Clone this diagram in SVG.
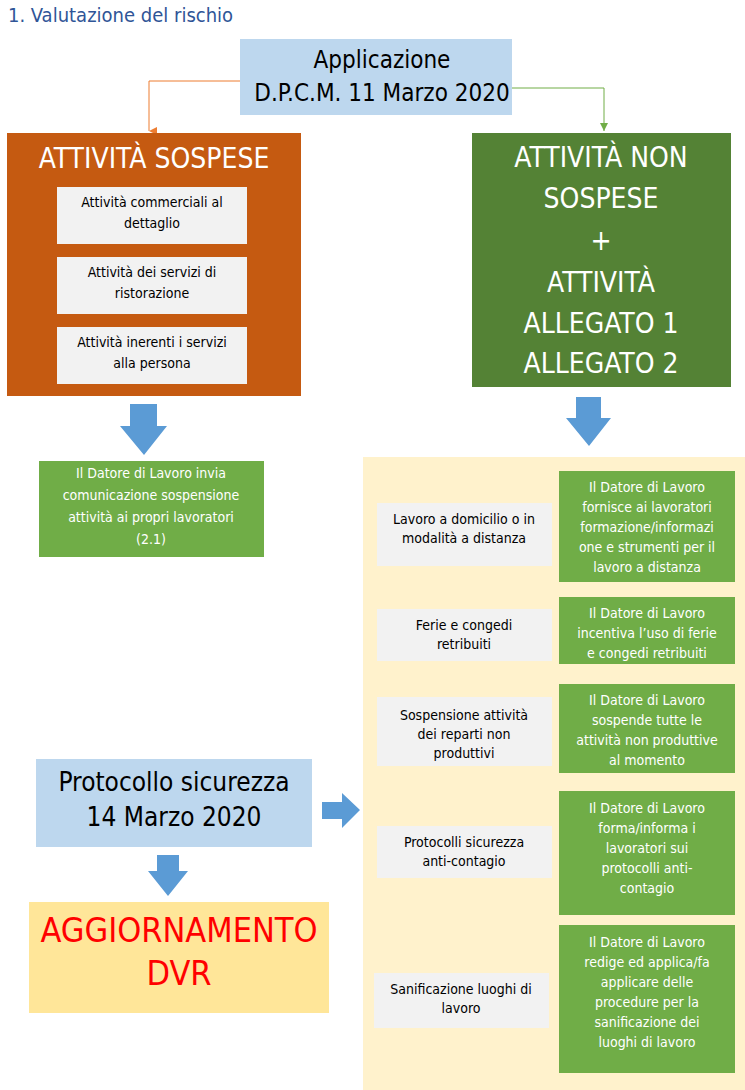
<svg xmlns="http://www.w3.org/2000/svg" width="745" height="1090" viewBox="0 0 745 1090">
<style>
text{font-family:"DejaVu Sans Condensed","DejaVu Sans",sans-serif;text-anchor:middle}
.s{font-size:14px;fill:#000}
.w{font-size:14px;fill:#fff}
.big{font-size:28px;fill:#fff}
.gray{fill:#F2F2F2}
.gr{fill:#70AD47}
.ba{fill:#5B9BD5}
</style>
<rect width="745" height="1090" fill="#fff"/>
<text x="8" y="22" style="font-size:20px;fill:#2F5597;text-anchor:start">1. Valutazione del rischio</text>
<g id="connectors">
<defs>
<marker id="mo" viewBox="0 0 10 10" refX="5" refY="10" markerWidth="8" markerHeight="8" orient="auto-start-reverse"><path d="M0,0L10,0L5,10z" fill="#ED7D31"/></marker>
<marker id="mg" viewBox="0 0 10 10" refX="5" refY="10" markerWidth="8" markerHeight="8"><path d="M0,0L10,0L5,10z" fill="#70AD47"/></marker>
</defs>
<path d="M240,81H149V131" fill="none" stroke="#ED7D31" stroke-width="1" marker-end="url(#mo)"/>
<path d="M512,88H604V131" fill="none" stroke="#70AD47" stroke-width="1" marker-end="url(#mg)"/>
<path class="ba" d="M130,404h27v22h10l-23,29l-24,-29h10z"/>
<path class="ba" d="M576,397h25v21h10l-22,28l-23,-28h10z"/>
<path class="ba" d="M322,802h20v-9l18,17l-18,18v-9h-20z"/>
<path class="ba" d="M157,855h22v16h9l-20,25l-20,-25h9z"/>
</g>
<g id="app"><rect x="240" y="39" width="272" height="76" fill="#BDD7EE"/>
<text x="382" y="68" style="font-size:24px">Applicazione</text><text x="382" y="101" style="font-size:24px">D.P.C.M. 11 Marzo 2020</text></g>
<g id="sospese"><rect x="7" y="133" width="294" height="263" fill="#C55A11"/>
<text x="154" y="168" class="big">ATTIVITÀ SOSPESE</text>
<rect class="gray" x="57" y="187" width="190" height="57"/><text class="s" x="152" y="207">Attività commerciali al</text><text class="s" x="152" y="228">dettaglio</text>
<rect class="gray" x="57" y="257" width="190" height="57"/><text class="s" x="152" y="277">Attività dei servizi di</text><text class="s" x="152" y="298">ristorazione</text>
<rect class="gray" x="57" y="327" width="190" height="57"/><text class="s" x="152" y="347">Attività inerenti i servizi</text><text class="s" x="152" y="368">alla persona</text></g>
<g id="nonsospese"><rect x="472" y="133" width="259" height="254" fill="#548235"/>
<text class="big" x="601" y="167">ATTIVITÀ NON</text><text class="big" x="601" y="208">SOSPESE</text><text class="big" x="601" y="250">+</text><text class="big" x="601" y="292">ATTIVITÀ</text><text class="big" x="601" y="333">ALLEGATO 1</text><text class="big" x="601" y="373">ALLEGATO 2</text></g>
<g id="comunicazione"><rect class="gr" x="39" y="461" width="225" height="96"/>
<text class="w" x="151" y="478">Il Datore di Lavoro invia</text><text class="w" x="151" y="500">comunicazione sospensione</text><text class="w" x="151" y="522">attività ai propri lavoratori</text><text class="w" x="151" y="544">(2.1)</text></g>
<g id="panel"><rect x="363" y="457" width="382" height="633" fill="#FFF2CC"/>
<rect class="gray" x="377" y="503" width="175" height="63"/><text class="s" x="464" y="524">Lavoro a domicilio o in</text><text class="s" x="464" y="543">modalità a distanza</text>
<rect class="gray" x="377" y="609" width="175" height="52"/><text class="s" x="464" y="630">Ferie e congedi</text><text class="s" x="464" y="649">retribuiti</text>
<rect class="gray" x="377" y="697" width="175" height="69"/><text class="s" x="464" y="720">Sospensione attività</text><text class="s" x="464" y="739">dei reparti non</text><text class="s" x="464" y="758">produttivi</text>
<rect class="gray" x="377" y="826" width="175" height="52"/><text class="s" x="464" y="847">Protocolli sicurezza</text><text class="s" x="464" y="866">anti-contagio</text>
<rect class="gray" x="374" y="973" width="175" height="55"/><text class="s" x="461" y="994">Sanificazione luoghi di</text><text class="s" x="461" y="1013">lavoro</text>
<rect class="gr" x="559" y="471" width="176" height="111"/><text class="w" x="647" y="492">Il Datore di Lavoro</text><text class="w" x="647" y="512">fornisce ai lavoratori</text><text class="w" x="647" y="532">formazione/informazi</text><text class="w" x="647" y="552">one e strumenti per il</text><text class="w" x="647" y="572">lavoro a distanza</text>
<rect class="gr" x="559" y="597" width="176" height="67"/><text class="w" x="647" y="618">Il Datore di Lavoro</text><text class="w" x="647" y="638">incentiva l’uso di ferie</text><text class="w" x="647" y="658">e congedi retribuiti</text>
<rect class="gr" x="559" y="684" width="176" height="89"/><text class="w" x="647" y="705">Il Datore di Lavoro</text><text class="w" x="647" y="725">sospende tutte le</text><text class="w" x="647" y="745">attività non produttive</text><text class="w" x="647" y="765">al momento</text>
<rect class="gr" x="559" y="791" width="176" height="124"/><text class="w" x="647" y="813">Il Datore di Lavoro</text><text class="w" x="647" y="833">forma/informa i</text><text class="w" x="647" y="853">lavoratori sui</text><text class="w" x="647" y="873">protocolli anti-</text><text class="w" x="647" y="893">contagio</text>
<rect class="gr" x="559" y="925" width="176" height="148"/><text class="w" x="647" y="947">Il Datore di Lavoro</text><text class="w" x="647" y="967">redige ed applica/fa</text><text class="w" x="647" y="987">applicare delle</text><text class="w" x="647" y="1007">procedure per la</text><text class="w" x="647" y="1027">sanificazione dei</text><text class="w" x="647" y="1047">luoghi di lavoro</text></g>
<g id="protocollo"><rect x="36" y="759" width="276" height="88" fill="#BDD7EE"/>
<text x="174" y="791" style="font-size:26px">Protocollo sicurezza</text><text x="174" y="826" style="font-size:26px">14 Marzo 2020</text></g>
<g id="dvr"><rect x="29" y="902" width="300" height="111" fill="#FFE699"/>
<text x="179" y="942" style="font-size:34px;fill:#FF0000">AGGIORNAMENTO</text><text x="179" y="985" style="font-size:34px;fill:#FF0000">DVR</text></g>
</svg>
